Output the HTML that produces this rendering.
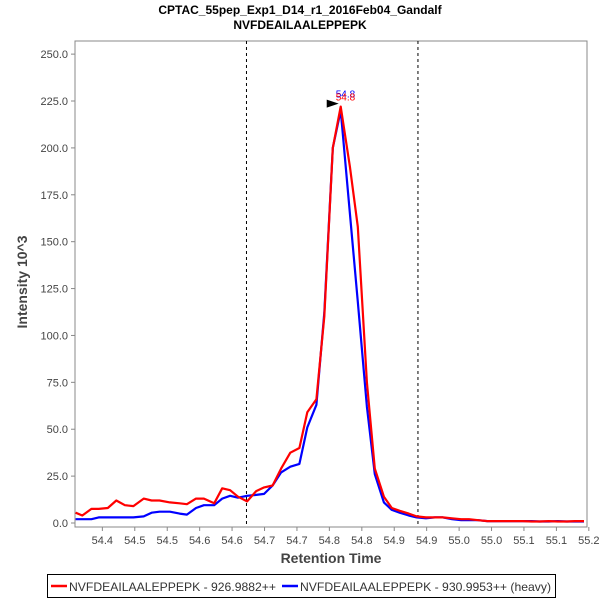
<!DOCTYPE html>
<html><head><meta charset="utf-8"><style>
body{margin:0;background:#fff;width:600px;height:600px;overflow:hidden;font-family:"Liberation Sans",sans-serif}
svg text{font-family:"Liberation Sans",sans-serif}
</style></head><body>
<svg id="chart" width="600" height="600">
<text x="300" y="14" text-anchor="middle" font-size="12" font-weight="bold">CPTAC_55pep_Exp1_D14_r1_2016Feb04_Gandalf</text>
<text x="300" y="29" text-anchor="middle" font-size="12" font-weight="bold">NVFDEAILAALEPPEPK</text>
<g id="plot"></g>
<text x="331" y="563" text-anchor="middle" font-size="14" font-weight="bold" fill="#444">Retention Time</text>
<text transform="translate(27,282) rotate(-90)" text-anchor="middle" font-size="14" font-weight="bold" fill="#444">Intensity 10^3</text>
<g>
<rect x="47.5" y="574.5" width="508" height="23" fill="#fff" stroke="#000"/>
<g><line x1="51" y1="586" x2="67" y2="586" stroke="#f00" stroke-width="2.5"/><text x="69" y="591" font-size="12" fill="#333" textLength="207" lengthAdjust="spacingAndGlyphs">NVFDEAILAALEPPEPK - 926.9882++</text></g>
<g><line x1="282" y1="586" x2="298" y2="586" stroke="#00f" stroke-width="2.5"/><text x="300" y="591" font-size="12" fill="#333" textLength="251" lengthAdjust="spacingAndGlyphs">NVFDEAILAALEPPEPK - 930.9953++ (heavy)</text></g>
</g>
</svg>
<script>
const times=[54.356,54.367,54.382,54.394,54.409,54.423,54.437,54.451,54.468,54.481,54.494,54.511,54.527,54.539,54.554,54.567,54.584,54.597,54.610,54.623,54.638,54.653,54.666,54.680,54.694,54.709,54.724,54.737,54.752,54.765,54.779,54.792,54.807,54.820,54.835,54.848,54.863,54.876,54.889,54.904,54.917,54.932,54.947,54.960,54.975,54.990,55.003,55.018,55.033,55.048,55.061,55.076,55.091,55.106,55.119,55.134,55.149,55.164,55.177,55.192];
const lightValues=[5.5,4,7.5,7.5,8,12,9.5,9,13,12,12,11,10.5,10,13,13,10.5,18.5,17.5,14,11.5,17,19,20,29,37.5,40,59,66,110,200,222,190,158,75,29,14,8,6.5,5,3.5,3,3,3,2.5,2,2,1.5,1,1,1,1,1,0.8,0.8,1,0.8,0.8,1,1];
const heavyValues=[2,2,2,3,3,3,3,3,3.5,5.5,6,6,5,4.5,8,9.5,9.5,13,14.5,13.5,14.5,15,15.5,20,27,30,31.5,51,63,112,200,220,165,118,62,26,11,7,5.5,4,3,2.5,3,3,2,1.5,1.5,1.5,1,1,1,1,1,1,0.8,0.8,1,0.8,0.8,0.8];
const yTicks=[0,25,50,75,100,125,150,175,200,225,250];
const xTickValues=[54.4,54.4533,54.5067,54.56,54.6133,54.6667,54.72,54.7733,54.8267,54.88,54.9333,54.9867,55.04,55.0933,55.1467,55.2];
const xTickLabels=["54.4","54.5","54.5","54.6","54.6","54.7","54.7","54.8","54.8","54.9","54.9","55.0","55.0","55.1","55.1","55.2"];
const boundaries=[54.637,54.919];
const peakTime=54.792, peakLabel="54.8";

const L=75,R=587,T=41,B=523,xmin=54.355,xmax=55.197,ymax=257;
const X=t=>L+(t-xmin)/(xmax-xmin)*(R-L);
const Y=v=>B-v/ymax*(B-T);
const NS="http://www.w3.org/2000/svg";
const g=document.getElementById('plot');
function mk(tag,attrs,parent){const e=document.createElementNS(NS,tag);for(const k in attrs)e.setAttribute(k,attrs[k]);(parent||g).appendChild(e);return e;}
const frame=mk('rect',{x:L,y:T,width:R-L,height:B-T+4,fill:'#fff',stroke:'#888'});


yTicks.forEach(v=>{
  const tl=mk('line',{x1:L-4,x2:L,y1:Y(v),y2:Y(v),stroke:'#888'});
  
  
  const tx=mk('text',{x:L-7,y:Y(v)+4,'text-anchor':'end','font-size':11,fill:'#444'});
  tx.textContent=v.toFixed(1);
  
  
});
xTickValues.forEach((v,i)=>{
  const tl=mk('line',{x1:X(v),x2:X(v),y1:B+4,y2:B+8,stroke:'#888'});
  
  
  const tx=mk('text',{x:X(v),y:B+21,'text-anchor':'middle','font-size':11,fill:'#444'});
  tx.textContent=xTickLabels[i];
  
  
});
boundaries.forEach(b=>{
  const l=mk('line',{x1:X(b),x2:X(b),y1:T,y2:B+4,stroke:'#000','stroke-dasharray':'3,3'});
  
  
});
function series(vals,color,name){
  const d=vals.map((v,i)=>(i?'L':'M')+X(times[i]).toFixed(1)+','+Y(v).toFixed(1)).join('');
  const p=mk('path',{d:d,fill:'none',stroke:color,'stroke-width':2.2,'stroke-linejoin':'round'});
  
  
}
series(heavyValues,'#00f','heavy-series-line');
series(lightValues,'#f00','light-series-line');
const pk=Math.max(...lightValues);
const px=X(peakTime),py=Y(pk);
const tri=mk('path',{d:`M${px-14},${py-7}L${px-2},${py-3}L${px-14},${py+1}Z`,fill:'#000'});


const lb=mk('text',{x:px-5,y:py-9,'font-size':10,fill:'#00f'});lb.textContent=peakLabel;


const lr=mk('text',{x:px-5,y:py-6,'font-size':10,fill:'#f00'});lr.textContent=peakLabel;


</script>
</body></html>
